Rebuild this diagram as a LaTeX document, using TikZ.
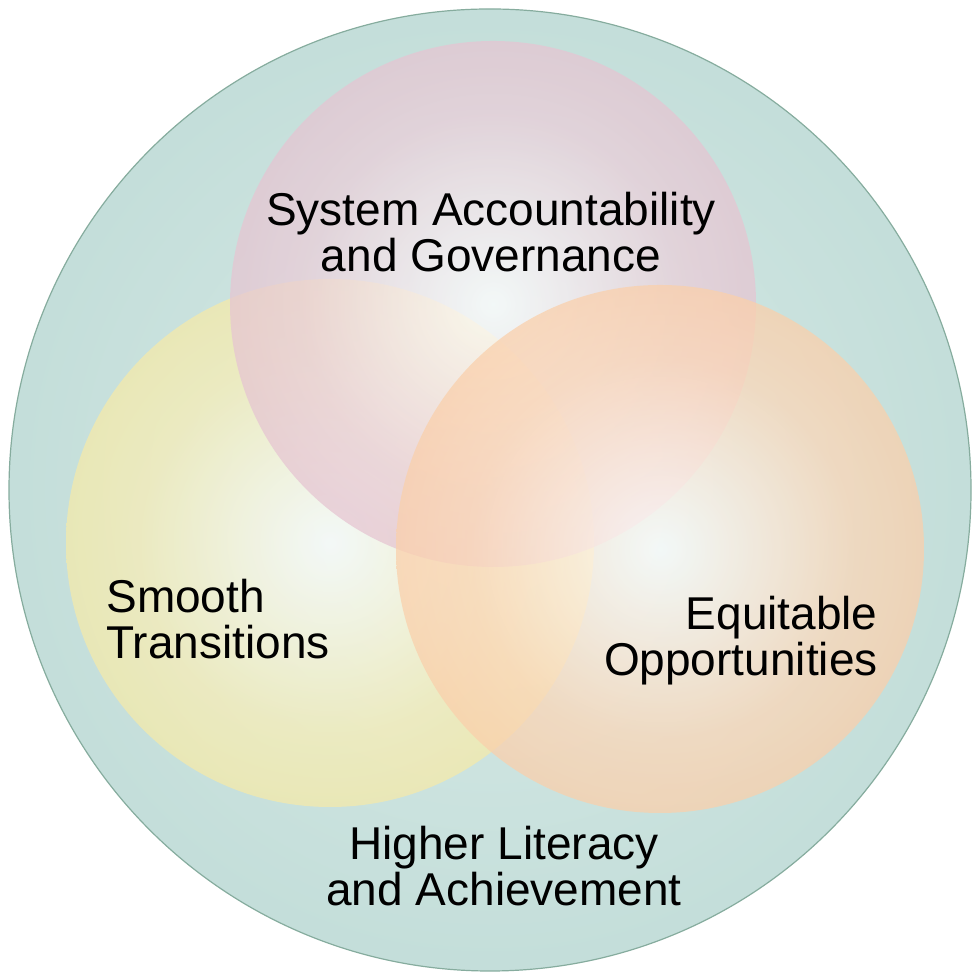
\documentclass[tikz,border=0pt]{standalone}
\usepackage{fontspec}
\setmainfont{Liberation Sans}
\definecolor{tealout}{HTML}{AFD2CC}
\definecolor{tealin}{HTML}{D8EAE7}
\definecolor{tealrim}{HTML}{86AC9E}
\definecolor{vpink}{HTML}{D8A6B9}
\definecolor{vyellow}{HTML}{F0DF7C}
\definecolor{vorange}{HTML}{F8B67E}
\pgfdeclareradialshading{tealshade}{\pgfpoint{0bp}{0bp}}{color(0bp)=(tealin); color(50bp)=(tealout)}
\pgfdeclareradialshading{pinkshade}{\pgfpoint{0bp}{0bp}}{color(0bp)=(white); color(18bp)=(vpink!55!white); color(50bp)=(vpink)}
\pgfdeclareradialshading{yellowshade}{\pgfpoint{0bp}{0bp}}{color(0bp)=(white); color(18bp)=(vyellow!55!white); color(50bp)=(vyellow)}
\pgfdeclareradialshading{orangeshade}{\pgfpoint{0bp}{0bp}}{color(0bp)=(white); color(18bp)=(vorange!55!white); color(50bp)=(vorange)}
\begin{document}
\begin{tikzpicture}[x=0.5pt,y=0.5pt, venn/.style={circle, shade, fill opacity=0.74, inner sep=0pt, minimum size=264pt}, txt/.style={font=\fontsize{23}{23}\selectfont, inner sep=0pt}]

        \useasboundingbox (0,0) rectangle (972,977);

        \node[circle, shade, shading=tealshade, draw=tealrim, line width=0.6pt, inner sep=0pt, minimum size=481pt] (c_big) at (490,487) {};
        \node[venn, shading=yellowshade] (c_smooth) at (330,434) {};
        \node[venn, shading=pinkshade, minimum size=263pt] (c_sys) at (493,673) {};
        \node[venn, shading=orangeshade] (c_equit) at (660,428) {};

        \node[txt, align=center] (t_sys) at (491,744.5) {System Accountability\\and Governance};
        \node[txt, align=left, anchor=west] (t_smooth) at (106,357.5) {Smooth\\Transitions};
        \node[txt, align=right, anchor=east] (t_equit) at (878,336) {Equitable\\Opportunities};
        \node[txt, align=center] (t_high) at (504,110.5) {Higher Literacy\\and Achievement};

    \end{tikzpicture}
\end{document}
